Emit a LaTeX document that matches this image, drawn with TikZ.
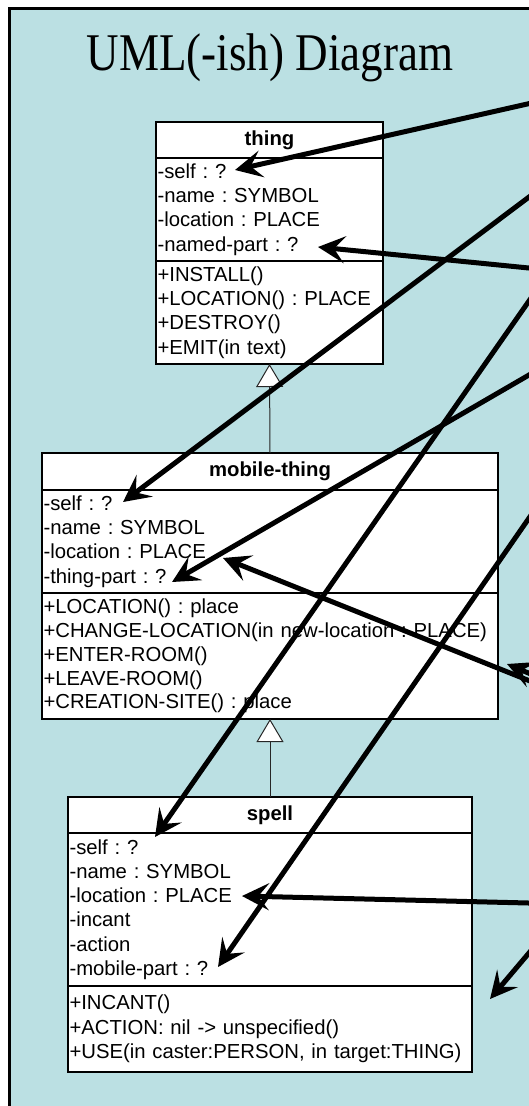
\documentclass[tikz,border=0pt]{standalone}
\usepackage{fontspec}
\setmainfont{Liberation Serif}
\setsansfont{Liberation Sans}
\usetikzlibrary{arrows.meta}
\definecolor{slidebg}{RGB}{187,224,227}
\tikzset{
  box/.style={draw=black, line width=1.2pt, fill=white, outer sep=0pt,
    inner xsep=1.5pt, inner ysep=0pt},
  head/.style={box, font=\sffamily\bfseries\fontsize{20.3}{24.3}\selectfont, align=center},
  comp/.style={box, font=\sffamily\fontsize{20.3}{24.3}\selectfont, align=left},
  ref/.style={line width=5pt, -{Stealth[length=27pt,width=27pt,inset=11pt]}},
  gen/.style={draw=black!85, line width=1pt, -{Triangle[length=23pt,width=27pt,fill=white]}},
}
\frenchspacing
\begin{document}
\begin{tikzpicture}[x=1pt,y=-1pt]
\path[use as bounding box] (0,0) rectangle (529,1106);
% slide background with its frame
\fill[white] (0,0) rectangle (529,1106);
\fill[slidebg] (9.5,8) rectangle (529,1106);
\draw[line width=3pt] (9.5,1106) -- (9.5,8) -- (529,8);

% title
\node[font=\fontsize{53}{58}\selectfont, anchor=base] (title) at (270,70)
  {\scalebox{0.85}[1]{UML(-ish) Diagram}};

% class thing
\node[head, minimum width=227pt, minimum height=36pt, anchor=north] (thing) at (269.5,122) {thing};
\node[comp, text width=224pt, minimum height=103pt, anchor=north] (thingattr) at (thing.south)
  {-self : ?\\-name : SYMBOL\\-location : PLACE\\-named-part : ?};
\node[comp, text width=224pt, minimum height=103pt, anchor=north] (thingops) at (thingattr.south)
  {+INSTALL()\\+LOCATION() : PLACE\\+DESTROY()\\+EMIT(in text)};

% class mobile-thing
\node[head, minimum width=456pt, minimum height=37pt, anchor=north] (mobile) at (270,453) {mobile-thing};
\node[comp, text width=453pt, minimum height=103pt, anchor=north] (mobattr) at (mobile.south)
  {-self : ?\\-name : SYMBOL\\-location : PLACE\\-thing-part : ?};
\node[comp, text width=453pt, minimum height=126pt, anchor=north, font=\sffamily\fontsize{20.3}{23.75}\selectfont] (mobops) at (mobattr.south)
  {+LOCATION() : place\\+CHANGE-LOCATION(in new-location : PLACE)\\+ENTER-ROOM()\\+LEAVE-ROOM()\\+CREATION-SITE() : place};

% class spell
\node[head, minimum width=404pt, minimum height=36pt, anchor=north] (spell) at (270,797) {spell};
\node[comp, text width=401pt, minimum height=153pt, anchor=north] (spellattr) at (spell.south)
  {-self : ?\\-name : SYMBOL\\-location : PLACE\\-incant\\-action\\-mobile-part : ?};
\node[comp, text width=401pt, minimum height=86pt, anchor=north] (spellops) at (spellattr.south)
  {+INCANT()\\+ACTION: nil -> unspecified()\\+USE(in caster:PERSON, in target:THING)};

% generalisation links
\draw[gen] (mobile.north) -- (thingops.south);
\draw[gen] (spell.north) -- (mobops.south);

% slot references coming in from the right
\begin{scope}
\clip (9.5,8) rectangle (529,1106);
\coordinate (tSelf) at (235,170);
\coordinate (tNamed) at (318,247);
\coordinate (mSelf) at (123,502);
\coordinate (mPart) at (172,582);
\coordinate (mLoc) at (223,558);
\coordinate (sSelf) at (155,837);
\coordinate (sLoc) at (242,896);
\coordinate (sPart) at (218,967);
\coordinate (sideA) at (507,664);
\coordinate (sideB) at (490,999);

\coordinate (r1) at (545,100);
\coordinate (r2) at (545,269.6);
\coordinate (r3) at (545,185);
\coordinate (r4) at (545,365.7);
\coordinate (r5) at (545,278);
\coordinate (r6) at (545,495);
\coordinate (r7) at (545,687);
\coordinate (r8) at (545,934);
\coordinate (r9) at (545,903.4);
\coordinate (r10) at (545,680);

\draw[ref] (r1) -- (tSelf);
\draw[ref] (r2) -- (tNamed);
\draw[ref] (r3) -- (mSelf);
\draw[ref] (r4) -- (mPart);
\draw[ref] (r5) -- (sSelf);
\draw[ref] (r6) -- (sPart);
\draw[ref] (r7) -- (mLoc);
\draw[ref] (r9) -- (sLoc);
\draw[ref] (r8) -- (sideB);
\draw[ref] (r10) -- (sideA);
\end{scope}
\end{tikzpicture}
\end{document}
